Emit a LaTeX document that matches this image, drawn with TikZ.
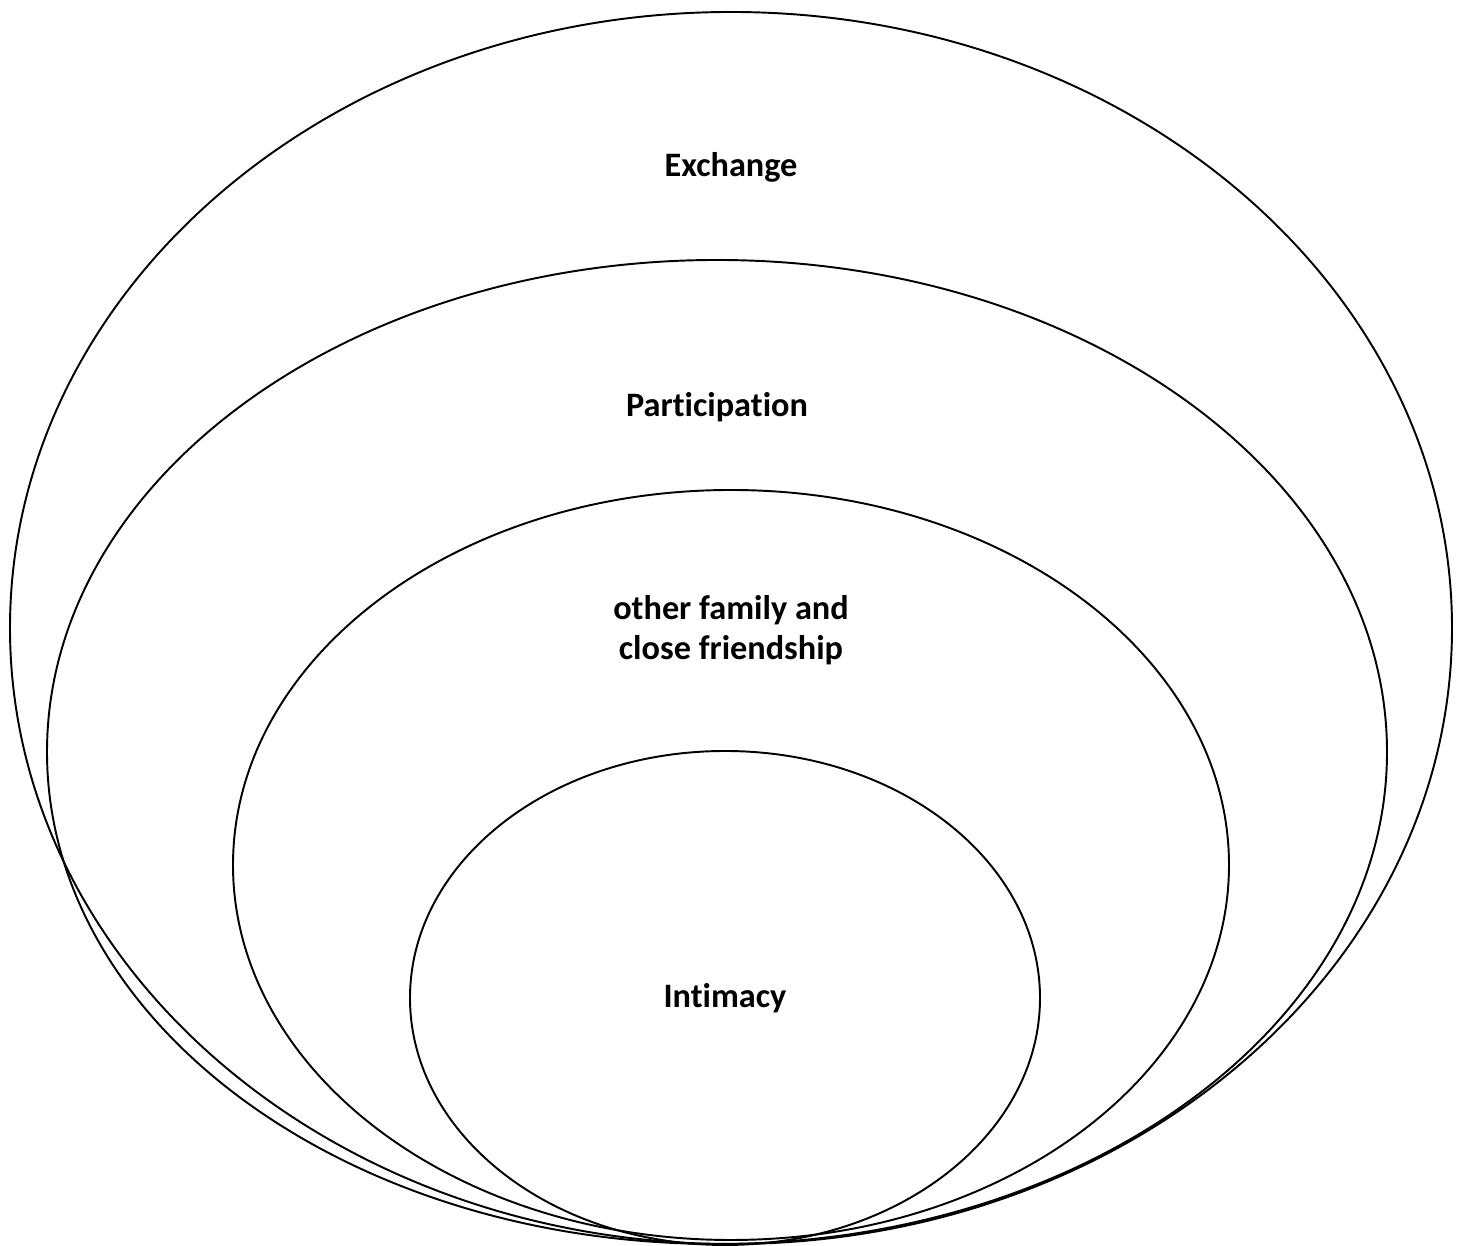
\documentclass[tikz,border=0pt]{standalone}
\usepackage{fontspec}
\setmainfont[Ligatures=NoCommon]{Carlito}
\begin{document}
\begin{tikzpicture}[scale=0.2,
  ring/.style={line width=1.1pt},
  lbl/.style={font=\bfseries\fontsize{19.5}{23}\selectfont, align=center}]
\useasboundingbox (0,0) rectangle (146.2,124.6);
\draw [ring] (73.1,61.8) ellipse (72.1 and 61.6);
\draw [ring] (71.7,49.4) ellipse (67.0 and 49.2);
\draw [ring] (73.1,38.1) ellipse (49.8 and 37.5);
\draw [ring] (72.5,24.8) ellipse (31.5 and 24.7);
\node [lbl] (exchange) at (73.1,107.9) {Exchange};
\node [lbl] (participation) at (71.7,83.9) {Participation};
\node [lbl] (family) at (73.1,61.6) {other family and\\close friendship};
\node [lbl] (intimacy) at (72.5,24.8) {Intimacy};
\end{tikzpicture}
\end{document}
